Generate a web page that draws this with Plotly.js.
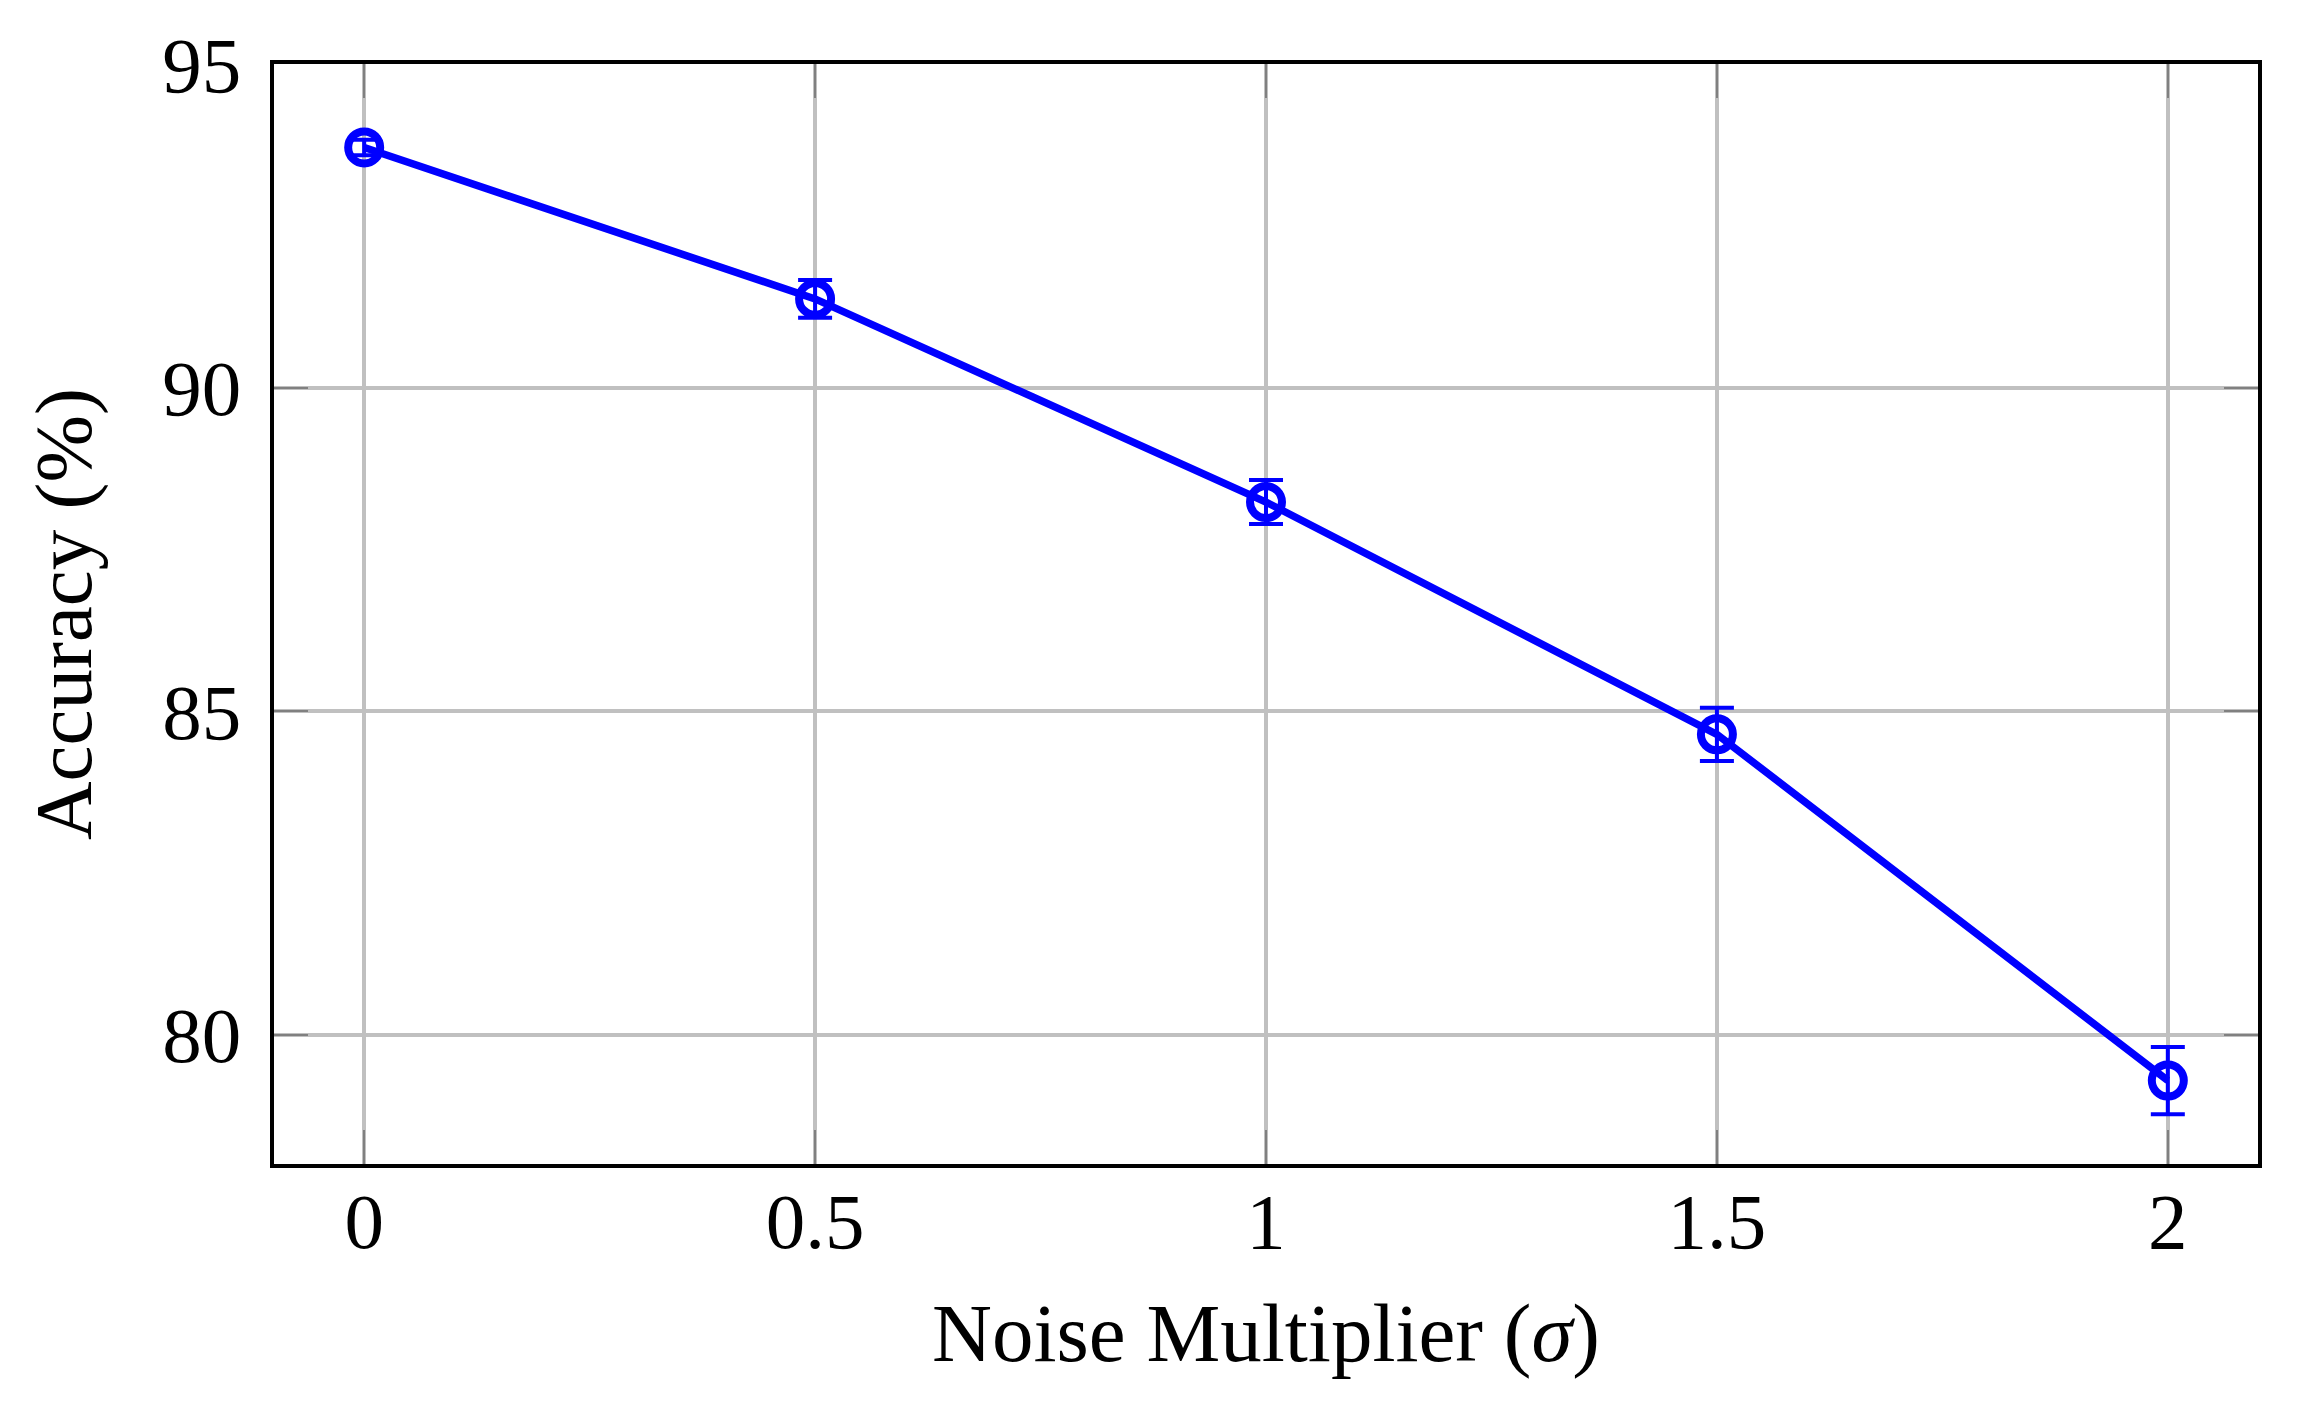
<!DOCTYPE html>
<html>
<head>
<meta charset="utf-8">
<script src="https://cdn.plot.ly/plotly-3.0.1.min.js"></script>
<style>
  html, body { margin: 0; padding: 0; background: #ffffff; }
  #chart { width: 2302px; height: 1408px; }
</style>
</head>
<body>
<div id="chart"></div>
<script>
const noiseMultiplier = [0, 0.5, 1, 1.5, 2];
const accuracy = [93.71, 91.37, 88.23, 84.64, 79.29];
const accuracyErr = [0.12, 0.29, 0.34, 0.41, 0.52];
const xTickVals = [0, 0.5, 1, 1.5, 2];
const xTickText = ['0', '0.5', '1', '1.5', '2'];
const yTickVals = [80, 85, 90, 95];
const yTickText = ['80', '85', '90', '95'];

const blue = '#0000ff';
const fontFamily = '"Liberation Serif", "DejaVu Serif", serif';

const trace = {
  x: noiseMultiplier,
  y: accuracy,
  type: 'scatter',
  mode: 'lines+markers',
  line: { color: blue, width: 7.5 },
  marker: { symbol: 'circle-open', size: 32, color: blue, line: { width: 8, color: blue } },
  error_y: { type: 'data', array: accuracyErr, visible: true, color: blue, thickness: 4, width: 17 },
  showlegend: false,
  cliponaxis: false
};

const axisCommon = {
  showline: true,
  linecolor: '#000000',
  linewidth: 4,
  mirror: 'ticks',
  ticks: 'inside',
  ticklen: 34,
  tickwidth: 2,
  tickcolor: '#808080',
  showgrid: true,
  gridcolor: '#c0c0c0',
  gridwidth: 4,
  zeroline: false,
  tickfont: { family: fontFamily, size: 79, color: '#000000' },
  automargin: false
};

const layout = {
  width: 2302,
  height: 1408,
  paper_bgcolor: '#ffffff',
  plot_bgcolor: '#ffffff',
  margin: { l: 274, r: 44, t: 64, b: 244, pad: 0 },
  xaxis: Object.assign({}, axisCommon, {
    range: [-0.1, 2.1],
    tickmode: 'array',
    tickvals: xTickVals,
    ticktext: xTickText,
    ticklabelstandoff: -15,
    title: { text: 'Noise Multiplier (<i>σ</i>)', font: { family: fontFamily, size: 83, color: '#000000' }, standoff: 40 }
  }),
  yaxis: Object.assign({}, axisCommon, {
    range: [78, 95],
    tickmode: 'array',
    tickvals: yTickVals,
    ticktext: yTickText,
    ticklabelstandoff: 13,
    title: { text: 'Accuracy (%)', font: { family: fontFamily, size: 81, color: '#000000' }, standoff: 45 }
  })
};

Plotly.newPlot('chart', [trace], layout, { displayModeBar: false, staticPlot: true });
</script>
</body>
</html>
